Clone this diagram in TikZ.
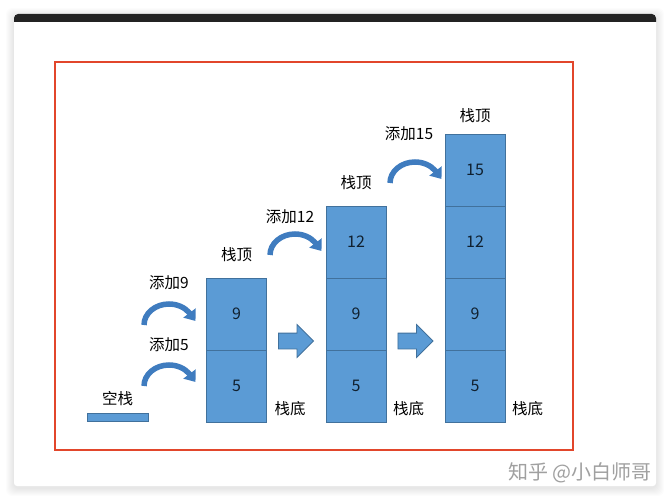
\documentclass[tikz,border=0pt]{standalone}
\usepackage{fontspec}
\setmainfont{Noto Sans CJK SC}
\usetikzlibrary{positioning,shapes.arrows,arrows.meta}
\definecolor{cellblue}{HTML}{5B9BD5}
\definecolor{cellline}{HTML}{41719C}
\definecolor{bowblue}{HTML}{3F7CBF}
\definecolor{framered}{HTML}{E2462B}
\definecolor{numtext}{HTML}{10202F}
\definecolor{marktext}{HTML}{A0A0A0}
\definecolor{topbar}{HTML}{232323}

\tikzset{
  cell/.style={draw=cellline, fill=cellblue, line width=0.8pt,
    minimum width=60pt, minimum height=72pt, inner sep=0pt, outer sep=0pt,
    text=numtext, font=\fontsize{16}{16}\selectfont},
  lbl/.style={inner sep=0pt, font=\fontsize{15.5}{15.5}\selectfont},
  bow/.style={bowblue, line width=5.5pt, -{Triangle[width=15pt,length=10pt]}},
  blockarrow/.style={single arrow, draw=cellline, fill=cellblue, line width=0.8pt,
    minimum height=35pt, single arrow head extend=8.5pt,
    inner xsep=0pt, inner ysep=7.5pt}
}

\begin{document}
\begin{tikzpicture}[x=1pt,y=-1pt]
\useasboundingbox (0,0) rectangle (670,500);

% card with shadow
\foreach \s in {1,...,8}
  \fill[black, opacity=0.012, rounded corners=6pt] (14-\s,16-\s) rectangle (656+\s,488+\s);
\fill[white, rounded corners=3pt] (14,14) rectangle (656,486);
\fill[topbar] (14,22) [rounded corners=4pt] -- (14,14) -- (656,14) [sharp corners] -- (656,22) -- cycle;
\draw[framered, line width=2pt] (55,62) rectangle (573,450);

% empty stack
\node[draw=cellline, fill=cellblue, line width=0.8pt,
    minimum width=61pt,
    minimum height=8pt,
    inner sep=0pt
] (empty) at (117.5,417) {};
\node[lbl, above=7pt of empty] (emptylbl) {空栈};

% stack 1
\node[cell] (s1a) at (236.5,386) {5};
\node[cell, above=0pt of s1a] (s1b) {9};
\node[lbl, above=16pt of s1b] (top1) {栈顶};
\node[lbl, above right=6pt and 8pt of s1a.south east] (bot1) {栈底};

% stack 2
\node[cell] (s2a) at (356,386) {5};
\node[cell, above=0pt of s2a] (s2b) {9};
\node[cell, above=0pt of s2b] (s2c) {12};
\node[lbl, above=16pt of s2c] (top2) {栈顶};
\node[lbl, above right=6pt and 7pt of s2a.south east] (bot2) {栈底};

% stack 3
\node[cell] (s3a) at (475,386) {5};
\node[cell, above=0pt of s3a] (s3b) {9};
\node[cell, above=0pt of s3b] (s3c) {12};
\node[cell, above=0pt of s3c] (s3d) {15};
\node[lbl, above=11pt of s3d] (top3) {栈顶};
\node[lbl, above right=6pt and 7pt of s3a.south east] (bot3) {栈底};

% push labels and curved arrows
\node[lbl] (add5) at (169,345) {添加5};
\node[lbl] (add9) at (169,283) {添加9};
\node[lbl] (add12) at (290,217) {添加12};
\node[lbl] (add15) at (409,134) {添加15};

\coordinate (b5) at (144,386);
\coordinate (b9) at (144,325);
\coordinate (b12) at (270,255);
\coordinate (b15) at (390,183);
\foreach \b in {b5,b9,b12,b15}
  \draw[bow] (\b) arc[start angle=180, end angle=325, x radius=25, y radius=21] -- ++(6,8);

% block arrows
\node[blockarrow] (ar1) at (292,341) {};
\node[blockarrow] (ar2) at (411.5,341) {};

% watermark
\node[font=\fontsize{20}{20}\selectfont, text=marktext, inner sep=0pt] (mark) at (580,473) {知乎 @小白师哥};

\end{tikzpicture}
\end{document}
